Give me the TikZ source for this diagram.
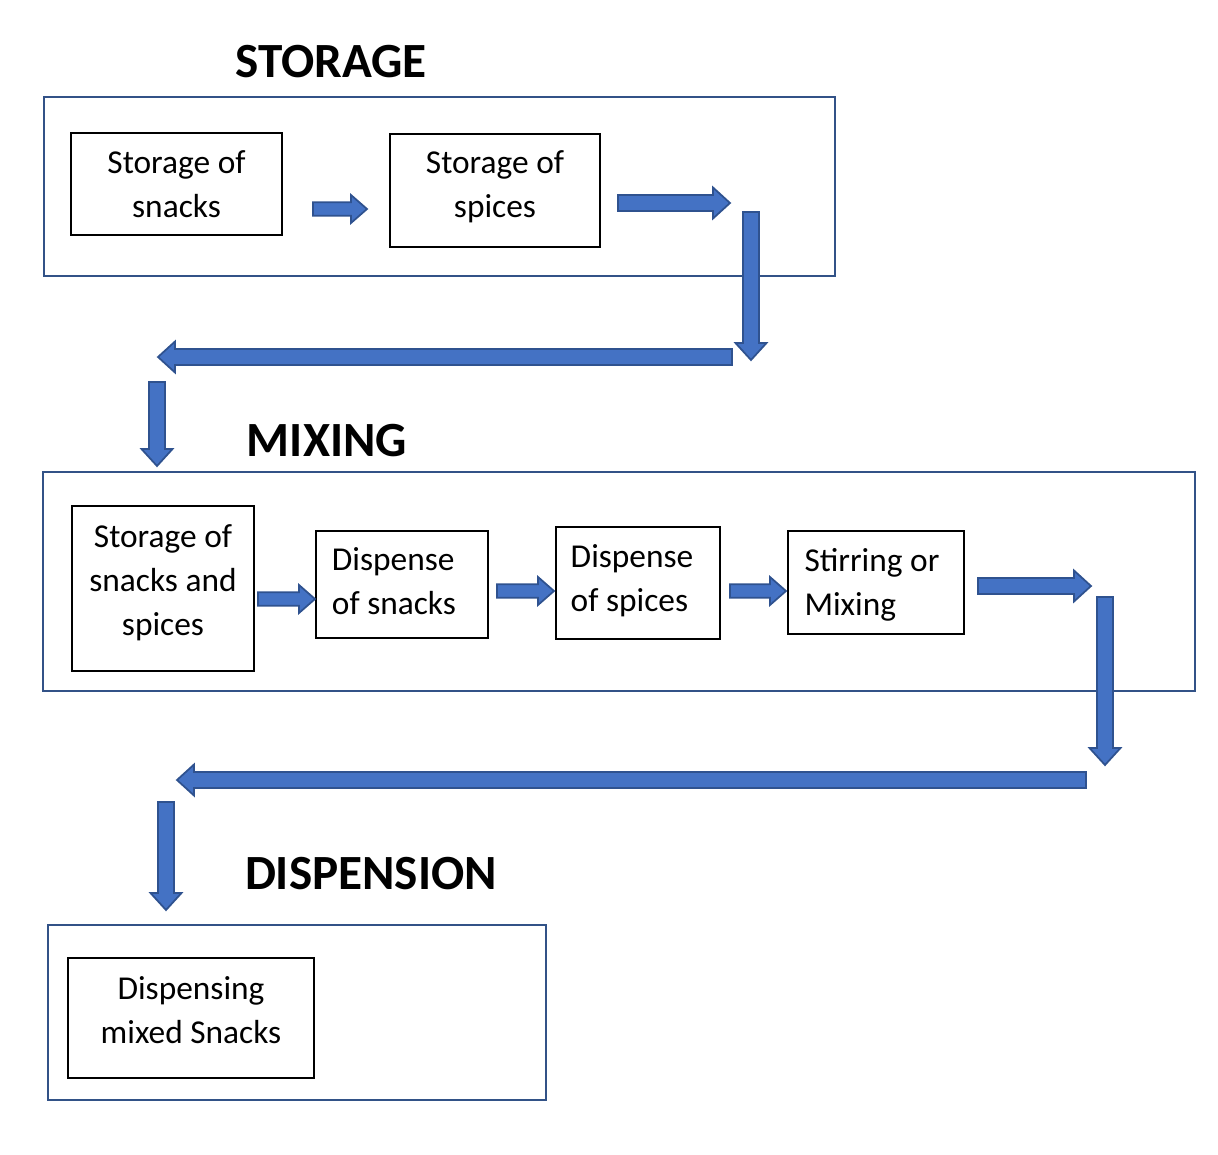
\documentclass[tikz,border=0pt]{standalone}
\usepackage{fontspec}
\setmainfont{Carlito}
\usepackage{tikz}
\usetikzlibrary{calc}

\definecolor{arrowfill}{HTML}{4472C4}
\definecolor{arrowline}{HTML}{2F528F}
\definecolor{framecol}{RGB}{50,82,135}

\tikzset{
  stage/.style={draw=framecol, line width=1.2pt},
  stepbox/.style={draw=black, line width=1.4pt, inner sep=0pt},
  steptext/.style={font=\fontsize{19}{25}\selectfont, align=center, inner sep=0pt},
  title/.style={font=\fontsize{28}{32}\selectfont\bfseries},
  barrow/.style={fill=arrowfill, draw=arrowline, line width=1pt, line join=miter}
}

% block arrow: from, to, half shaft, half head, head length
\newcommand{\blockarrow}[5]{%
  \coordinate (ba-n) at ($(#2)!#5!(#1)$);
  \draw[barrow] ($(#1)!#3!90:(#2)$) -- ($(ba-n)!#3!-90:(#1)$) -- ($(ba-n)!#4!-90:(#1)$)
    -- (#2) -- ($(ba-n)!#4!90:(#1)$) -- ($(ba-n)!#3!90:(#1)$) -- ($(#1)!#3!-90:(#2)$) -- cycle;
}

\begin{document}
\begin{tikzpicture}[x=0.02cm, y=-0.02cm]

  \useasboundingbox (0,0) rectangle (1218,1154);

  % storage
  \node[title] (tstorage) at (331,62) {STORAGE};
  \draw[stage] (44,97) rectangle (835,276);
  \node[stepbox, minimum width=4.22cm, minimum height=2.04cm,
    label={[steptext]center:{Storage of\\snacks}}] (snacks) at (176.5,184) {};
  \node[stepbox, minimum width=4.2cm, minimum height=2.26cm,
    label={[steptext, yshift=2.3pt]center:{Storage of\\spices}}] (spices) at (495,190.5) {};

  % mixing
  \node[title] (tmixing) at (327,441) {MIXING};
  \draw[stage] (43,472) rectangle (1195,691);
  \node[stepbox, minimum width=3.64cm, minimum height=3.3cm,
    label={[steptext, yshift=3.4pt]center:{Storage of\\snacks and\\spices}}] (both) at (163,588.5) {};
  \node[stepbox, minimum width=3.44cm, minimum height=2.14cm,
    label={[steptext, align=left, yshift=1.7pt, xshift=-4.6pt]center:{Dispense\\of snacks}}] (dsnacks) at (402,584.5) {};
  \node[stepbox, minimum width=3.28cm, minimum height=2.24cm,
    label={[steptext, align=left, yshift=1.1pt, xshift=-3.4pt]center:{Dispense\\of spices}}] (dspices) at (638,583) {};
  \node[stepbox, minimum width=3.52cm, minimum height=2.06cm,
    label={[steptext, align=left, yshift=-1.1pt, xshift=-2.3pt]center:{Stirring or\\Mixing}}] (stir) at (876,582.5) {};

  % dispension
  \node[title] (tdisp) at (371,874) {DISPENSION};
  \draw[stage] (48,925) rectangle (546,1100);
  \node[stepbox, minimum width=4.92cm, minimum height=2.4cm,
    label={[steptext, yshift=4.6pt]center:{Dispensing\\mixed Snacks}}] (mixed) at (191,1018) {};

  % arrow ends
  \coordinate (a1s) at (313,209);  \coordinate (a1e) at (367,209);
  \coordinate (a2s) at (618,203);  \coordinate (a2e) at (730,203);
  \coordinate (a3s) at (751,212);  \coordinate (a3e) at (751,360);
  \coordinate (a4s) at (732,357);  \coordinate (a4e) at (158,357);
  \coordinate (a5s) at (157,382);  \coordinate (a5e) at (157,466);
  \coordinate (b1s) at (258,599);  \coordinate (b1e) at (315,599);
  \coordinate (b2s) at (497,591);  \coordinate (b2e) at (554,591);
  \coordinate (b3s) at (730,591);  \coordinate (b3e) at (786,591);
  \coordinate (b4s) at (978,586);  \coordinate (b4e) at (1091,586);
  \coordinate (b5s) at (1105,597); \coordinate (b5e) at (1105,765);
  \coordinate (b6s) at (1086,780); \coordinate (b6e) at (177,780);
  \coordinate (b7s) at (166,802);  \coordinate (b7e) at (166,910);

  \foreach \p/\q in {a1s/a1e, b1s/b1e, b2s/b2e, b3s/b3e}{
    \blockarrow{\p}{\q}{0.135cm}{0.28cm}{0.32cm}
  }
  \foreach \p/\q in {a2s/a2e, a3s/a3e, a4s/a4e, a5s/a5e, b4s/b4e, b5s/b5e, b6s/b6e, b7s/b7e}{
    \blockarrow{\p}{\q}{0.16cm}{0.31cm}{0.34cm}
  }

\end{tikzpicture}
\end{document}
